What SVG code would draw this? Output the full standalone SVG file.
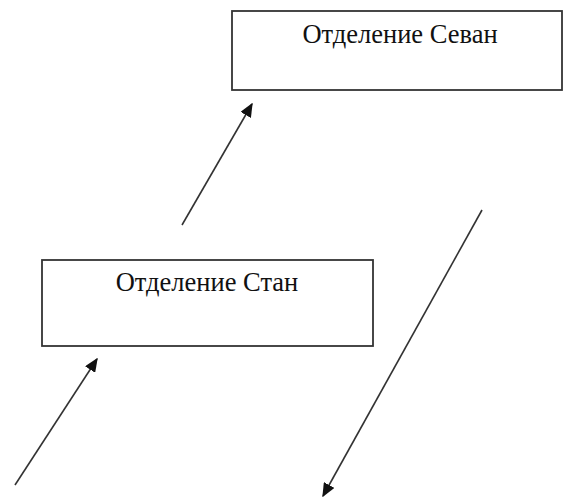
<svg xmlns="http://www.w3.org/2000/svg" width="563" height="498" viewBox="0 0 563 498">
<style>
.box{fill:#fff;stroke:#333;stroke-width:1.8}
.lbl{font-family:"Liberation Serif","Times New Roman",serif;font-size:26.5px;fill:#111;text-anchor:middle}
.arr{stroke:#333;stroke-width:1.6;fill:none;marker-end:url(#ah)}
</style>
<defs>
<marker id="ah" viewBox="0 0 10 10" refX="9" refY="5" markerWidth="14" markerHeight="12" markerUnits="userSpaceOnUse" orient="auto" preserveAspectRatio="none">
<path d="M0,0 L10,5 L0,10 z" fill="#111"/>
</marker>
</defs>
<rect width="563" height="498" fill="#fff"/>
<g id="node-sevan">
<rect class="box" x="232" y="11" width="330" height="79"/>
<text class="lbl" x="400" y="43">Отделение Севан</text>
</g>
<g id="node-stan">
<rect class="box" x="42" y="260" width="331" height="86"/>
<text class="lbl" x="207" y="291">Отделение Стан</text>
</g>
<g id="connectors">
<line class="arr" x1="15" y1="485" x2="97" y2="359"/>
<line class="arr" x1="182" y1="225" x2="252" y2="104"/>
<line class="arr" x1="482" y1="210" x2="323" y2="496"/>
</g>
</svg>
